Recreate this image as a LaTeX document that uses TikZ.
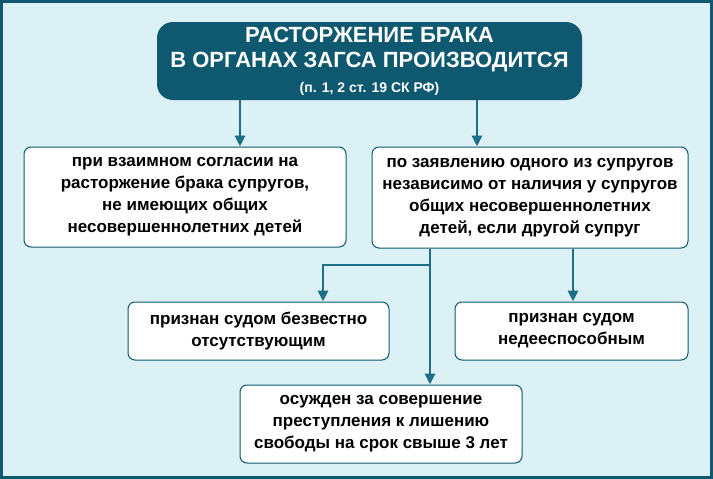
\documentclass[tikz,border=0pt]{standalone}
\usepackage{fontspec}
\setmainfont{Liberation Sans}
\usetikzlibrary{arrows.meta}
\definecolor{bg}{HTML}{DCF1F6}
\definecolor{teal}{HTML}{0E5870}
\definecolor{arr}{HTML}{1F6E88}
\begin{document}
\begin{tikzpicture}[x=1pt,y=-1pt,
  box/.style={draw=teal,line width=1pt,fill=white,rounded corners=7pt,align=center,font=\bfseries\fontsize{17}{22}\selectfont,inner sep=0pt},
  arrow/.style={draw=arr,line width=2.8pt,-{Triangle[width=10pt,length=11pt]}}]
\fill[bg] (0,0) rectangle (713,479);
\draw[teal,line width=3pt] (1.5,1.5) rectangle (711.5,477.5);
\node[fill=teal,rounded corners=16pt,text=white,align=center,minimum width=425pt,minimum height=78pt,font=\bfseries\fontsize{22}{25}\selectfont] (t) at (369.5,61)
 {РАСТОРЖЕНИЕ БРАКА\\В ОРГАНАХ ЗАГСА ПРОИЗВОДИТСЯ\\{\fontsize{14}{18}\selectfont (п. 1, 2 ст. 19 СК РФ)}};
\node[box,minimum width=322pt,minimum height=100pt] (l) at (185,197)
 {при взаимном согласии на\\расторжение брака супругов,\\не имеющих общих\\несовершеннолетних детей};
\node[box,minimum width=316pt,minimum height=101pt] (r) at (530,197.5)
 {по заявлению одного из супругов\\независимо от наличия у супругов\\общих несовершеннолетних\\детей, если другой супруг};
\node[box,minimum width=261pt,minimum height=58pt] (a) at (258.5,331)
 {признан судом безвестно\\отсутствующим};
\node[box,minimum width=233pt,minimum height=58pt] (b) at (571.5,331)
 {признан судом\\недееспособным};
\node[box,minimum width=282pt,minimum height=78pt] (c) at (381,424)
 {осужден за совершение\\преступления к лишению\\свободы на срок свыше 3 лет};
\draw[arrow] (t.south -| 240,0) -- (l.north -| 240,0);
\draw[arrow] (t.south -| 477,0) -- (r.north -| 477,0);
\draw[arrow] (r.south -| 430,0) -- (c.north -| 430,0);
\draw[arrow] (430,265) -| (a.north -| 323,0);
\draw[arrow] (r.south -| 573,0) -- (b.north -| 573,0);
\end{tikzpicture}
\end{document}
